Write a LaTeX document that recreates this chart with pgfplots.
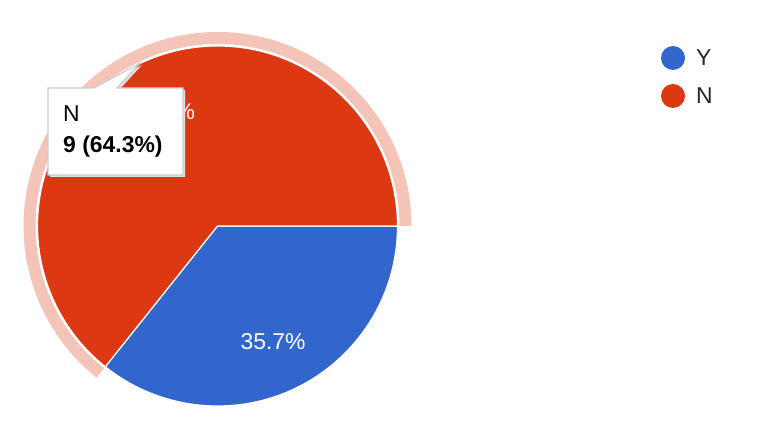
\documentclass[border=0pt]{standalone}
\usepackage{pgfplots}
\usepackage{pgfplotstable}
\usepackage{fontspec}
\setmainfont{Liberation Sans}
\pgfplotsset{compat=1.18}
\pgfkeys{/pgf/number format/assume math mode=true}
\definecolor{gblue}{HTML}{3366CC}
\definecolor{gred}{HTML}{DC3912}
\definecolor{ring}{HTML}{F5C4B8}
\definecolor{tipborder}{HTML}{CCCCCC}

\pgfplotstableread{
label count
Y 5
N 9
}\piedata

\begin{document}
\begin{tikzpicture}
\pgfplotstablegetelem{0}{count}\of\piedata \let\cY\pgfplotsretval
\pgfplotstablegetelem{1}{count}\of\piedata \let\cN\pgfplotsretval
\pgfmathsetmacro\aY{360*\cY/(\cY+\cN)}
\pgfmathsetmacro\aN{360-\aY}
\pgfmathsetmacro\pY{100*\cY/(\cY+\cN)}
\pgfmathsetmacro\pN{100*\cN/(\cY+\cN)}
\begin{axis}[width=764bp,height=442bp,scale only axis,
 xmin=0,xmax=764,ymin=0,ymax=442,hide axis,clip=false]
\addplot[draw=none] coordinates {(0,0) (764,442)};
% pixel coords: y = 442 - y_px, 1 unit = 1bp
\coordinate (c) at (axis cs:217.5,216);
% hover ring round the N slice
\fill[ring] ([shift={(0:194bp)}]c) arc[start angle=0,end angle=\aN,radius=194bp]
 -- ([shift={(\aN:182bp)}]c) arc[start angle=\aN,end angle=0,radius=182bp] -- cycle;
% slices
\filldraw[fill=gblue,draw=white,line width=1.2bp] (c) -- ([shift={(0:180bp)}]c)
 arc[start angle=0,end angle=-\aY,radius=180bp] -- cycle;
\filldraw[fill=gred,draw=white,line width=1.2bp] (c) -- ([shift={(0:180bp)}]c)
 arc[start angle=0,end angle=\aN,radius=180bp] -- cycle;
% slice labels
\node[white,font=\fontsize{23}{27}\selectfont] at ([shift={(-\aY/2:128bp)}]c)
 {\pgfmathprintnumber[fixed,fixed zerofill,precision=1]{\pY}\%};
\node[white,font=\fontsize{23}{27}\selectfont] at ([shift={(\aN/2:127bp)}]c)
 {\pgfmathprintnumber[fixed,fixed zerofill,precision=1]{\pN}\%};
% legend
\fill[gblue] (axis cs:673,384) circle (12bp);
\fill[gred] (axis cs:673,346) circle (12bp);
\node[anchor=base west,inner sep=0pt,font=\fontsize{23}{27}\selectfont,text=black!85]
 at (axis cs:696,376) {Y};
\node[anchor=base west,inner sep=0pt,font=\fontsize{23}{27}\selectfont,text=black!85]
 at (axis cs:696,338) {N};
% tooltip
\fill[black!12] (axis cs:50,352) -- (axis cs:96,352) -- (axis cs:142,377)
 -- (axis cs:119,352) -- (axis cs:185,352) -- (axis cs:185,265) -- (axis cs:50,265) -- cycle;
\filldraw[fill=white,draw=tipborder,line width=1.2bp] (axis cs:48,354) -- (axis cs:94,354)
 -- (axis cs:140,379) -- (axis cs:117,354) -- (axis cs:183,354) -- (axis cs:183,267)
 -- (axis cs:48,267) -- cycle;
\node[anchor=base west,inner sep=0pt,font=\fontsize{23}{27}\selectfont] at (axis cs:63,320) {N};
\node[anchor=base west,inner sep=0pt,font=\fontsize{23}{27}\selectfont\bfseries] at (axis cs:63,289)
 {\cN\ (\pgfmathprintnumber[fixed,fixed zerofill,precision=1]{\pN}\%)};
\end{axis}
\end{tikzpicture}
\end{document}
